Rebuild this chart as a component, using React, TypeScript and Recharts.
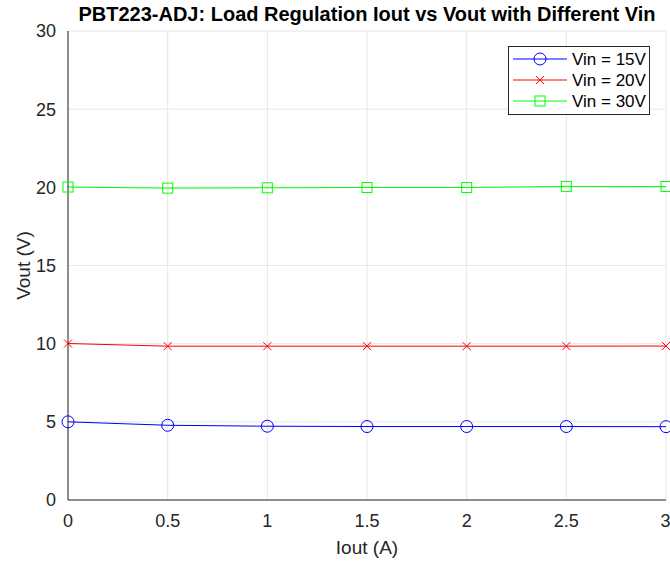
import React from 'react';
import { LineChart, Line, XAxis, YAxis, CartesianGrid, Label } from 'recharts';

const iout = [0, 0.5, 1, 1.5, 2, 2.5, 3];
const vin15 = [5.0, 4.78, 4.72, 4.7, 4.7, 4.7, 4.69];
const vin20 = [10.01, 9.84, 9.84, 9.84, 9.84, 9.84, 9.85];
const vin30 = [20.02, 19.95, 19.97, 19.99, 19.99, 20.06, 20.05];
const xTicks = [0, 0.5, 1, 1.5, 2, 2.5, 3];
const yTicks = [0, 5, 10, 15, 20, 25, 30];

const data = iout.map((x, i) => ({ iout: x, v15: vin15[i], v20: vin20[i], v30: vin30[i] }));

const FONT = '"Liberation Sans", Arial, Helvetica, sans-serif';
const AXIS = '#262626';

const CircleDot = (props: any) => {
  const { cx, cy } = props;
  if (cx == null || cy == null) return null;
  return <circle cx={cx} cy={cy} r={6} fill="none" stroke="#0000ff" strokeWidth={1} />;
};

const CrossDot = (props: any) => {
  const { cx, cy } = props;
  if (cx == null || cy == null) return null;
  const s = 4;
  return (
    <g stroke="#ff0000" strokeWidth={1}>
      <line x1={cx - s} y1={cy - s} x2={cx + s} y2={cy + s} />
      <line x1={cx - s} y1={cy + s} x2={cx + s} y2={cy - s} />
    </g>
  );
};

const SquareDot = (props: any) => {
  const { cx, cy } = props;
  if (cx == null || cy == null) return null;
  return <rect x={cx - 5} y={cy - 5} width={10} height={10} fill="none" stroke="#00ff00" strokeWidth={1} />;
};

const legendItems = [
  { label: 'Vin = 15V', color: '#0000ff', kind: 'circle' },
  { label: 'Vin = 20V', color: '#ff0000', kind: 'cross' },
  { label: 'Vin = 30V', color: '#00ff00', kind: 'square' },
];

const LegendBox = () => (
  <svg width={142} height={69} style={{ display: 'block' }}>
    <rect x={0.5} y={0.5} width={141} height={68} fill="#fff" stroke="#262626" strokeWidth={1} />
    {legendItems.map((it, i) => {
      const y = 13 + i * 21;
      return (
        <g key={it.label}>
          <line x1={5} y1={y} x2={59} y2={y} stroke={it.color} strokeWidth={1} />
          {it.kind === 'circle' && <CircleDot cx={32} cy={y} />}
          {it.kind === 'cross' && <CrossDot cx={32} cy={y} />}
          {it.kind === 'square' && <SquareDot cx={32} cy={y} />}
          <text x={64} y={y + 6} fontSize={17} fontFamily={FONT} fill="#000">
            {it.label}
          </text>
        </g>
      );
    })}
  </svg>
);

export default function App() {
  return (
    <div style={{ position: 'absolute', left: 0, top: 0, width: 670, height: 562, background: '#fff' }}>
      <LineChart width={670} height={562} data={data} margin={{ top: 31, right: 4, bottom: 22, left: 8 }}>
        <CartesianGrid stroke="#e6e6e6" strokeWidth={1} />
        <XAxis
          dataKey="iout"
          type="number"
          domain={[0, 3]}
          ticks={xTicks}
          height={40}
          stroke={AXIS}
          tickLine={false}
          tick={{ fill: AXIS, fontSize: 18, fontFamily: FONT }}
          tickMargin={8}
        >
          <Label value="Iout (A)" position="insideBottom" offset={-14} style={{ fill: AXIS, fontSize: 19, fontFamily: FONT }} />
        </XAxis>
        <YAxis
          type="number"
          domain={[0, 30]}
          ticks={yTicks}
          width={60}
          stroke={AXIS}
          tickLine={false}
          tick={{ fill: AXIS, fontSize: 18, fontFamily: FONT }}
          tickMargin={6}
        >
          <Label value="Vout (V)" angle={-90} position="insideLeft" offset={15} style={{ fill: AXIS, fontSize: 19, fontFamily: FONT, textAnchor: 'middle' }} />
        </YAxis>
        <Line dataKey="v15" stroke="#0000ff" strokeWidth={1} dot={<CircleDot />} activeDot={false} isAnimationActive={false} />
        <Line dataKey="v20" stroke="#ff0000" strokeWidth={1} dot={<CrossDot />} activeDot={false} isAnimationActive={false} />
        <Line dataKey="v30" stroke="#00ff00" strokeWidth={1} dot={<SquareDot />} activeDot={false} isAnimationActive={false} />
      </LineChart>
      <div
        style={{
          position: 'absolute',
          left: 68,
          width: 598,
          top: 2,
          textAlign: 'center',
          fontFamily: FONT,
          fontWeight: 'bold',
          fontSize: 20,
          lineHeight: '24px',
          color: '#000',
          whiteSpace: 'nowrap',
        }}
      >
        PBT223-ADJ: Load Regulation Iout vs Vout with Different Vin
      </div>
      <div style={{ position: 'absolute', left: 508, top: 46 }}>
        <LegendBox />
      </div>
    </div>
  );
}
